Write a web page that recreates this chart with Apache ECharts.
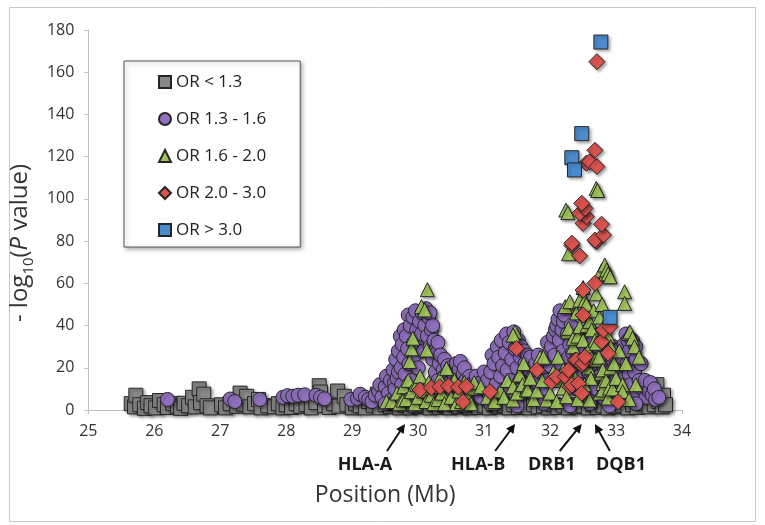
<!DOCTYPE html>
<html>
<head>
<meta charset="utf-8">
<style>
  html, body { margin: 0; padding: 0; background: #fff; }
  #chart { width: 765px; height: 525px; }
</style>
<script src="https://cdn.jsdelivr.net/npm/echarts@6/dist/echarts.min.js"></script>
</head>
<body>
<div id="chart"></div>
<script>
(function () {
  // [position (Mb), -log10(P)]
  const orBelow13 = [
    [25.65, 3], [25.7, 1.5], [25.72, 7], [25.78, 2.5], [25.85, 0.8], [25.9, 3.5], [25.95, 2], [26.02, 1],
    [26.08, 4.5], [26.15, 2.5], [26.2, 1.2], [26.28, 3], [26.35, 1.8], [26.4, 0.8], [26.45, 3.2], [26.52, 2],
    [26.58, 6], [26.62, 1.5], [26.68, 10], [26.7, 3.5], [26.75, 7.5], [26.8, 2], [26.85, 1], [27.02, 2.5],
    [27.08, 1], [27.15, 3], [27.25, 1.8], [27.3, 8], [27.35, 2.8], [27.4, 6.5], [27.45, 1.5], [27.52, 3],
    [27.58, 5], [27.62, 1], [27.72, 2], [27.82, 1.5], [27.88, 3], [27.95, 1], [28.0, 2.5], [28.08, 1.2],
    [28.15, 3], [28.22, 1.8], [28.3, 2.5], [28.38, 1], [28.45, 3.5], [28.5, 11.5], [28.52, 8.5], [28.58, 2],
    [28.65, 1.2], [28.72, 3], [28.78, 9], [28.8, 1.8], [28.88, 6.5], [28.92, 2.5], [29.0, 1], [29.05, 3],
    [29.12, 2], [29.2, 1], [29.25, 4], [29.32, 2.2], [29.38, 7.5], [29.42, 1], [29.5, 2.5], [29.58, 1.5],
    [29.65, 3], [29.72, 1], [29.8, 2.2], [29.88, 1], [29.95, 2.8], [30.02, 1.5], [30.1, 2], [30.18, 1],
    [30.25, 2.5], [30.32, 1.2], [30.4, 2.2], [30.48, 1], [30.55, 2.5], [30.62, 1.5], [30.7, 2], [30.78, 1],
    [30.85, 2.5], [30.92, 1.2], [31.0, 2], [31.08, 1], [31.15, 2.5], [31.22, 1.5], [31.3, 2], [31.38, 1],
    [31.45, 2.5], [31.52, 1.2], [31.6, 2], [31.68, 1], [31.75, 2.5], [31.82, 1.5], [31.9, 2], [31.98, 1],
    [32.05, 2.5], [32.12, 1.2], [32.2, 2], [32.28, 1], [32.35, 2.5], [32.42, 1.5], [32.5, 2], [32.58, 1],
    [32.65, 2.5], [32.72, 1.2], [32.8, 2], [32.88, 1], [32.95, 2.5], [33.02, 1.5], [33.1, 2], [33.18, 1],
    [33.25, 2.5], [33.32, 1.2], [33.4, 3], [33.45, 6], [33.5, 1.5], [33.55, 9], [33.58, 2.5], [33.62, 12],
    [33.65, 4], [33.7, 1.5], [33.72, 7], [33.75, 2.5]
  ]

  const or13to16 = [
    [26.2, 5], [27.15, 5.2], [27.22, 4], [27.6, 5], [27.95, 6], [28.02, 6.8], [28.1, 6.5], [28.18, 7],
    [28.28, 7.2], [28.45, 7], [28.52, 6], [28.58, 5.3], [28.98, 5], [29.08, 5.5], [29.12, 7.5], [29.2, 6],
    [29.25, 5], [29.3, 4], [29.35, 7], [29.4, 9], [29.42, 12], [29.45, 6], [29.5, 11], [29.52, 16],
    [29.55, 8], [29.58, 14], [29.6, 5], [29.62, 19], [29.64, 13], [29.65, 10], [29.66, 24], [29.68, 15],
    [29.7, 28], [29.7, 18], [29.72, 6], [29.73, 35], [29.74, 20], [29.75, 12], [29.76, 31], [29.78, 25],
    [29.79, 38], [29.8, 17], [29.82, 35], [29.83, 9], [29.84, 29], [29.85, 45], [29.86, 22], [29.88, 40],
    [29.9, 14], [29.92, 44], [29.93, 32], [29.95, 26], [29.96, 47], [29.98, 38], [30.0, 20], [30.0, 30],
    [30.02, 42], [30.04, 34], [30.05, 36], [30.06, 46], [30.08, 28], [30.1, 40], [30.12, 48], [30.14, 35],
    [30.16, 44], [30.18, 30], [30.18, 46], [30.2, 38], [30.22, 24], [30.22, 40], [30.24, 33], [30.26, 18],
    [30.26, 28], [30.28, 27], [30.3, 14], [30.3, 32], [30.32, 22], [30.34, 26], [30.35, 11], [30.38, 19],
    [30.4, 16], [30.4, 24], [30.42, 8], [30.45, 21], [30.46, 17], [30.48, 13], [30.5, 20], [30.52, 18],
    [30.55, 10], [30.55, 16], [30.58, 22], [30.6, 15], [30.62, 19], [30.64, 23], [30.65, 12], [30.68, 17],
    [30.7, 8], [30.7, 20], [30.72, 14], [30.75, 10], [30.78, 16], [30.8, 12], [30.85, 7], [30.88, 16],
    [30.9, 9], [30.95, 6], [30.95, 13], [31.0, 10], [31.0, 18], [31.05, 14], [31.08, 7], [31.1, 18],
    [31.12, 26], [31.15, 22], [31.18, 12], [31.2, 30], [31.22, 25], [31.25, 16], [31.26, 33], [31.28, 21],
    [31.3, 9], [31.32, 27], [31.34, 36], [31.35, 19], [31.38, 32], [31.4, 14], [31.42, 24], [31.45, 37],
    [31.47, 29], [31.5, 20], [31.52, 33], [31.55, 25], [31.56, 30], [31.58, 15], [31.6, 28], [31.62, 22],
    [31.65, 11], [31.66, 26], [31.68, 19], [31.7, 25], [31.72, 8], [31.74, 20], [31.75, 16], [31.78, 22],
    [31.8, 13], [31.82, 26], [31.85, 19], [31.88, 10], [31.9, 17], [31.92, 23], [31.95, 14], [31.96, 32],
    [31.98, 27], [32.0, 21], [32.02, 30], [32.05, 35], [32.07, 26], [32.08, 38], [32.1, 40], [32.12, 43],
    [32.15, 47], [32.14, 33], [32.16, 22], [32.18, 38], [32.2, 28], [32.2, 42], [32.22, 45], [32.24, 18],
    [32.26, 36], [32.28, 25], [32.3, 31], [32.32, 14], [32.32, 40], [32.34, 27], [32.36, 20], [32.38, 34],
    [32.4, 10], [32.42, 26], [32.44, 17], [32.44, 36], [32.46, 30], [32.5, 12], [32.52, 24], [32.55, 8],
    [32.56, 33], [32.58, 18], [32.6, 37], [32.6, 27], [32.62, 5], [32.64, 14], [32.66, 33], [32.66, 22],
    [32.7, 10], [32.72, 30], [32.74, 36], [32.75, 16], [32.78, 25], [32.8, 6], [32.82, 20], [32.85, 13],
    [32.86, 32], [32.88, 28], [32.9, 18], [32.92, 9], [32.95, 24], [32.96, 30], [32.98, 14], [33.0, 7],
    [33.02, 19], [33.05, 11], [33.06, 29], [33.08, 25], [33.1, 15], [33.12, 31], [33.15, 36], [33.17, 22],
    [33.18, 33], [33.2, 28], [33.2, 17], [33.22, 12], [33.25, 33], [33.28, 18], [33.3, 24], [33.3, 30],
    [33.32, 8], [33.35, 14], [33.38, 22], [33.4, 10], [33.44, 14], [33.45, 6], [33.5, 9], [33.52, 13],
    [33.55, 7], [33.58, 10], [33.6, 5], [33.65, 6],
    [29.5, 3], [29.9, 2], [30.3, 3], [30.7, 2], [31.1, 3], [31.5, 2], [31.9, 3], [32.3, 2], [32.6, 3],
    [32.9, 2], [33.3, 3]
  ]

  const or16to20 = [
    [29.52, 3.9], [29.6, 4], [29.68, 8], [29.72, 3], [29.77, 4.7], [29.78, 11], [29.82, 5], [29.85, 14],
    [29.87, 23], [29.9, 29], [29.92, 34], [29.9, 8.7], [29.95, 3], [29.98, 12], [30.0, 6], [30.03, 16],
    [30.05, 49], [30.08, 9], [30.1, 47.4], [30.12, 4], [30.13, 28.4], [30.14, 57], [30.16, 13], [30.2, 7],
    [30.24, 3], [30.28, 11], [30.3, 5], [30.33, 15], [30.36, 8], [30.4, 3], [30.43, 19.7], [30.45, 12],
    [30.5, 6], [30.55, 14], [30.58, 3], [30.62, 9], [30.66, 4], [30.7, 13], [30.75, 7], [30.8, 3],
    [30.83, 10.4], [30.85, 13], [30.95, 11], [31.05, 6], [31.13, 3.3], [31.16, 4], [31.25, 9], [31.3, 6],
    [31.35, 14], [31.44, 4.7], [31.44, 11], [31.47, 37], [31.44, 35.5], [31.5, 8], [31.54, 17.5], [31.54, 16.6],
    [31.58, 12], [31.6, 22], [31.64, 9.5], [31.66, 9.5], [31.7, 15], [31.75, 5], [31.8, 9], [31.85, 25],
    [31.88, 14], [31.9, 25], [31.95, 4.7], [32.0, 8], [32.05, 18], [32.1, 4], [32.12, 25], [32.15, 14],
    [32.2, 19], [32.2, 10.4], [32.25, 6.3], [32.27, 37], [32.27, 49], [32.23, 49], [32.28, 74],
    [32.24, 94.7], [32.27, 93.5], [32.3, 51.3], [32.28, 38.7], [32.32, 22], [32.35, 30], [32.35, 34], [32.38, 15],
    [32.4, 46], [32.42, 35], [32.42, 5], [32.45, 52], [32.45, 39.5], [32.5, 58], [32.5, 33], [32.52, 12],
    [32.53, 52], [32.55, 50], [32.56, 40], [32.58, 28], [32.58, 20], [32.6, 42], [32.6, 4.7], [32.62, 15],
    [32.63, 38], [32.63, 24.5], [32.66, 47], [32.68, 33], [32.68, 23.7], [32.7, 55], [32.7, 31.6], [32.7, 105],
    [32.72, 104], [32.74, 25], [32.75, 44], [32.76, 8], [32.78, 66], [32.78, 17.4], [32.79, 50], [32.8, 19],
    [32.8, 12.6], [32.8, 9.5], [32.82, 40], [32.83, 64], [32.83, 68.7], [32.85, 14], [32.86, 66.3], [32.88, 64.5],
    [32.88, 35], [32.88, 5.7], [32.9, 10.4], [32.91, 63.1], [32.92, 30], [32.92, 20], [32.95, 10], [32.97, 22],
    [33.0, 15], [33.05, 28], [33.1, 12], [33.1, 8.7], [33.13, 56], [33.13, 50.5], [33.15, 22], [33.19, 36.3],
    [33.2, 5], [33.21, 37], [33.25, 34], [33.28, 30], [33.3, 12], [33.35, 25]
  ]

  const or20to30 = [
    [30.03, 9.5], [30.2, 10.5], [30.33, 11], [30.46, 11.4], [30.61, 10.8], [30.73, 11.2], [30.68, 3.9],
    [31.09, 8.7], [31.49, 29.2], [31.8, 18.9], [32.02, 13.4], [32.1, 15.8], [32.23, 15.8], [32.28, 18.9],
    [32.3, 11], [32.33, 11.8], [32.38, 23.7], [32.4, 23.7], [32.43, 12.6], [32.48, 21.3], [32.48, 7.9],
    [32.5, 22.1], [32.53, 25.2], [32.5, 45], [32.5, 56.8], [32.68, 60], [32.78, 32.4], [32.81, 37.9],
    [32.88, 26.9], [32.91, 39.5], [33.03, 3.9], [32.33, 78], [32.33, 79], [32.45, 73], [32.7, 79.7],
    [32.68, 80.5], [32.81, 82.9], [32.78, 88], [32.5, 88.4], [32.55, 91.6], [32.45, 93.2], [32.53, 95.5],
    [32.48, 97.9], [32.55, 116.9], [32.6, 117.6], [32.71, 115.3], [32.68, 123], [32.71, 165]
  ]

  const orAbove30 = [
    [32.77, 174.3], [32.48, 130.9], [32.33, 119.5], [32.37, 113.7], [32.91, 43.9]
  ]

  const seriesNames = ['OR < 1.3', 'OR 1.3 - 1.6', 'OR 1.6 - 2.0', 'OR 2.0 - 3.0', 'OR > 3.0']
  const geneNames = ['HLA-A', 'HLA-B', 'DRB1', 'DQB1']
  const genePositions = [29.8, 31.47, 32.48, 32.68]

  const FONT = '"Open Sans", "Liberation Sans", sans-serif'
  const shadow = {
    shadowBlur: 3,
    shadowOffsetX: 2,
    shadowOffsetY: 2,
    shadowColor: 'rgba(0, 0, 0, 0.35)'
  }

  function markerSeries(name, data, symbol, size, color) {
    return {
      name,
      type: 'scatter',
      data,
      symbol,
      symbolSize: size,
      clip: false,
      itemStyle: Object.assign({
        color,
        borderColor: '#262626',
        borderWidth: 1,
        opacity: 1
      }, shadow),
      emphasis: { disabled: true }
    }
  }

  const chart = echarts.init(document.getElementById('chart'), null, { renderer: 'canvas' })

  chart.setOption({
    animation: false,
    backgroundColor: '#fff',
    textStyle: { fontFamily: FONT },
    grid: { left: 88, right: 83, top: 30, bottom: 115, containLabel: false },
    legend: {
      orient: 'vertical',
      left: 124,
      top: 61,
      padding: [11, 34, 7, 34],
      itemGap: 17,
      itemWidth: 12,
      itemHeight: 12,
      backgroundColor: '#fff',
      borderColor: '#555',
      borderWidth: 1,
      shadowBlur: 4,
      shadowOffsetX: 2,
      shadowOffsetY: 2,
      shadowColor: 'rgba(0,0,0,0.3)',
      data: seriesNames,
      textStyle: { fontFamily: FONT, fontSize: 17, color: '#222', lineHeight: 20 }
    },
    xAxis: {
      type: 'value',
      min: 25,
      max: 34,
      interval: 1,
      name: 'Position (Mb)',
      nameLocation: 'middle',
      nameGap: 74,
      nameTextStyle: { fontFamily: FONT, fontSize: 23, color: '#333' },
      axisLine: { onZero: false, lineStyle: { color: '#bfbfbf', width: 1 } },
      axisTick: { show: true, length: 4, lineStyle: { color: '#bfbfbf' } },
      axisLabel: { fontFamily: FONT, fontSize: 16, color: '#333', margin: 13 },
      splitLine: { show: false }
    },
    yAxis: {
      type: 'value',
      min: 0,
      max: 180,
      interval: 20,
      name: '{a|- log}{s|10}{a|(}{i|P}{a| value)}',
      nameLocation: 'middle',
      nameRotate: 90,
      nameGap: 28,
      nameTextStyle: {
        padding: [0, 46, 0, 0],
        rich: {
          a: { fontFamily: FONT, fontSize: 24, color: '#333', lineHeight: 32 },
          i: { fontFamily: FONT, fontSize: 24, color: '#333', lineHeight: 32, fontStyle: 'italic' },
          s: { fontFamily: FONT, fontSize: 15, color: '#333', lineHeight: 15, verticalAlign: 'bottom' }
        }
      },
      axisLine: { show: true, lineStyle: { color: '#bfbfbf', width: 1 } },
      axisTick: { show: true, length: 4, lineStyle: { color: '#bfbfbf' } },
      axisLabel: { fontFamily: FONT, fontSize: 16, color: '#333', margin: 14 },
      splitLine: { show: false }
    },
    series: [
      markerSeries(seriesNames[0], orBelow13, 'rect', 14, '#888888'),
      markerSeries(seriesNames[1], or13to16, 'circle', 14, '#9070be'),
      markerSeries(seriesNames[2], or16to20, 'triangle', 14, '#a0c45c'),
      markerSeries(seriesNames[3], or20to30, 'diamond', 16, '#d9534f'),
      markerSeries(seriesNames[4], orAbove30, 'rect', 14, '#4a8cce')
    ]
  })

  // gene arrows and labels under the x axis
  const ARROW_TIP_Y = 424
  const arrowDx = [-18, -20, -22, 15]
  const labelDx = [-22, -17, -8, 11]

  // whole arrow (shaft + head) as one filled outline
  function arrowShape(tx, ty, fx, fy) {
    const ang = Math.atan2(ty - fy, tx - fx)
    const c = Math.cos(ang)
    const s = Math.sin(ang)
    const headLen = 9
    const headHalf = 4.5
    const shaftHalf = 1
    const bx = tx - headLen * c
    const by = ty - headLen * s
    return [
      [tx, ty],
      [bx + headHalf * s, by - headHalf * c],
      [bx + shaftHalf * s, by - shaftHalf * c],
      [fx + shaftHalf * s, fy - shaftHalf * c],
      [fx - shaftHalf * s, fy + shaftHalf * c],
      [bx - shaftHalf * s, by + shaftHalf * c],
      [bx - headHalf * s, by + headHalf * c]
    ]
  }

  const graphics = [{
    type: 'rect',
    silent: true,
    z: -1,
    shape: { x: 9.5, y: 7.5, width: 746, height: 514 },
    style: { fill: 'none', stroke: '#c8c8c8', lineWidth: 1 }
  }]

  geneNames.forEach((gene, i) => {
    const tipX = chart.convertToPixel({ xAxisIndex: 0, yAxisIndex: 0 }, [genePositions[i], 0])[0]
    const tailX = tipX + arrowDx[i]
    const tailY = ARROW_TIP_Y + 27
    graphics.push({
      type: 'polygon',
      silent: true,
      z: 100,
      shape: { points: arrowShape(tipX, ARROW_TIP_Y, tailX, tailY) },
      style: { fill: '#111' }
    })
    graphics.push({
      type: 'text',
      silent: true,
      z: 100,
      x: tailX + labelDx[i],
      y: 465,
      style: {
        text: gene,
        font: 'bold 18px ' + FONT,
        fill: '#1a1a1a',
        align: 'center',
        verticalAlign: 'middle'
      }
    })
  })

  chart.setOption({ graphic: graphics })
})()
</script>
</body>
</html>
